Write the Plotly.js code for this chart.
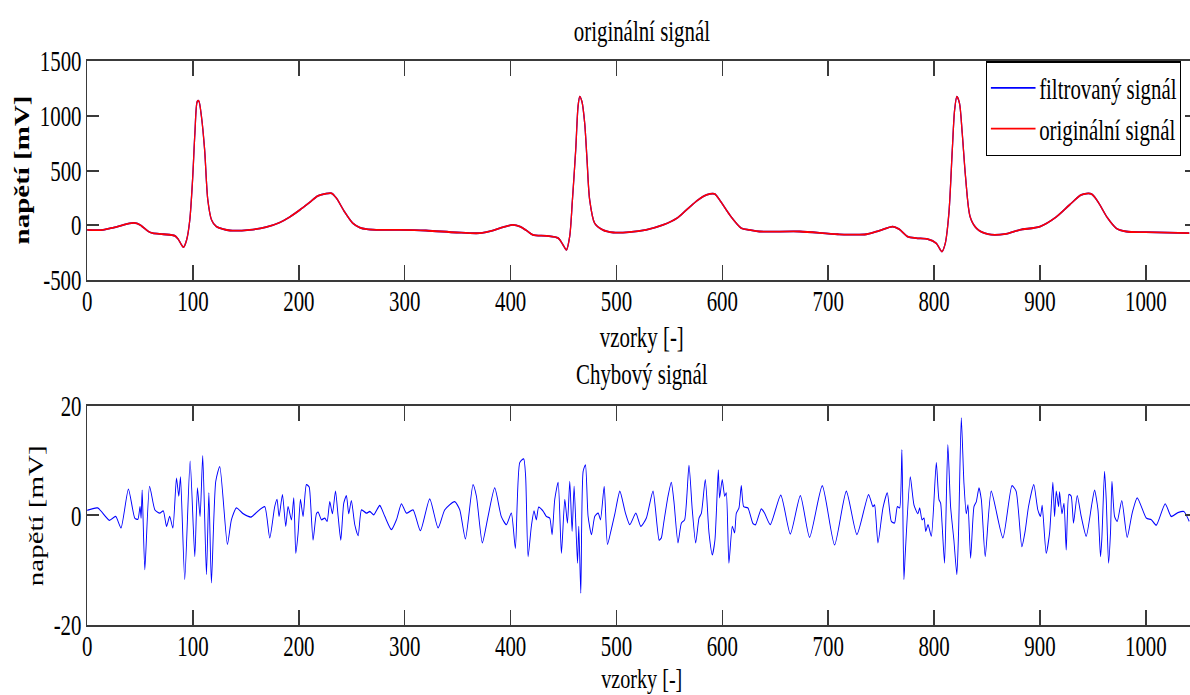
<!DOCTYPE html>
<html>
<head>
<meta charset="utf-8">
<script src="https://cdn.plot.ly/plotly-3.0.1.min.js"></script>
<style>
  html, body { margin: 0; padding: 0; background: #fff; overflow: hidden; width: 1190px; height: 695px; }
  #wrap { transform: scaleX(0.72); transform-origin: 0 0; width: 1680px; height: 695px; }
  #chart { width: 1680px; height: 695px; }
</style>
</head>
<body>
<div id="wrap"><div id="chart"></div></div>
<script>
// ---- data ----
const ecgX = [0,15,25,32,40,47,51,58,62,72,83,86,91,94,97,99.6,101.8,104,105.5,108,111,114,117.5,122,128.5,135,153.6,169,182,191,201,210,218,224.5,231,235.5,243,251,257.6,264,273,295,320,349,371,383,393,402,409,415,421,434,445,449.5,452.7,455.8,458.4,461.5,463.7,465.3,467.4,470,472.2,474.7,479.4,487,497,512,528,544,557,566,577,585,592.7,597.4,607,618,626,635,673,709,736,748.5,761,767,775,783,794,802,807.4,810.6,814,817.2,819.4,821.5,824,826.6,829.7,834,840,851,868,881,900,915,928,939,948.5,954.7,964,972,981.5,1000,1041];
const originalSignal = [-42,-42,-21,-3,18,18,-3,-57,-72,-82,-97,-127,-200,-133,50,414,840,1129,1135,992,688,231,49,-12,-36,-48,-42,-18,25,73,140,207,268,286,292,247,125,18,-21,-36,-42,-42,-48,-66,-72,-48,-18,3,-12,-48,-88,-97,-118,-179,-225,-103,231,688,1084,1175,1129,931,597,231,18,-42,-66,-63,-42,3,64,140,231,277,286,231,94,-27,-42,-57,-57,-82,-82,-48,-12,-36,-103,-118,-127,-164,-240,-164,110,688,1053,1175,1114,840,444,79,-27,-82,-79,-42,-12,73,186,277,286,216,64,-27,-57,-63,-72];
const filteredSignal = [-42,-42,-21,-3,18,18,-3,-57,-72,-82,-97,-127,-200,-133,50,414,840,1129,1135,992,688,231,49,-12,-36,-48,-42,-18,25,73,140,207,268,286,292,247,125,18,-21,-36,-42,-42,-48,-66,-72,-48,-18,3,-12,-48,-88,-97,-118,-179,-225,-103,231,688,1084,1175,1129,931,597,231,18,-42,-66,-63,-42,3,64,140,231,277,286,231,94,-27,-42,-57,-57,-82,-82,-48,-12,-36,-103,-118,-127,-164,-240,-164,110,688,1053,1175,1114,840,444,79,-27,-82,-79,-42,-12,73,186,277,286,216,64,-27,-57,-63,-72];

const errX = [0,10,21,27,32,39,45,48,50,51,52,54.5,59,64,68.6,72,75,78,81,84.4,86.6,88.2,92.2,97.3,101.7,104.2,106.7,109.2,112.7,115,117.4,121.5,125.3,132.5,136.3,141,147.3,155,161.5,167.8,172.5,177.2,179.4,181.3,184.5,187.6,189.8,193,195.2,197.1,199.3,201.5,204,207.1,209.7,210.9,213.4,216.6,218.2,221.3,224.5,226.7,229.2,231.7,234.6,237.1,239.6,242.4,244.9,247.1,249.6,252.8,256,259.1,263.8,267,270.8,276.4,281.2,287.4,292.2,296.9,301.6,307.9,314.8,323.6,331.5,337.8,347.2,352,357.3,364.5,367.7,373.3,378.7,385,391.2,396,400.7,404.5,408.6,412.4,414.2,416.5,419.6,422.1,424.3,426.5,430.6,433.8,437,439.2,441.7,444.9,448,451.2,453.7,455.9,458.1,460,463.2,464.4,466.3,468.5,470.7,473.2,476.4,479.5,482.7,484.9,488.4,491.5,494.7,498.5,503.2,508.5,512.6,518.3,523,528.2,534.5,540.3,542.4,544.6,548.7,551.8,554.3,558.1,561.3,564.4,568.5,571.6,574.8,578,580.2,583.9,587.4,590.5,593,596.2,597.4,599.9,602.2,603.7,606.2,609.4,611.6,613.2,615.7,617.9,620.1,624.2,628.9,631.4,636.8,639.9,645.3,655.2,664.2,673.7,682.4,694.4,706,717.1,727.1,738.1,742.2,743.8,747,751.7,755.8,759.6,762.7,765.3,767.5,769.6,771.5,772.8,777.5,781,784.7,786.4,788.6,790.5,792.1,794.3,797.4,802.1,804.6,806.2,807.5,809.9,813,815.6,818.7,821.5,823.1,825.7,828.2,830.4,832,834.5,837.7,839.9,842.4,844.6,848.3,854,865,873.5,877.5,882.9,886,889.2,894.2,898,900.5,902.1,905.9,909.1,912.2,913.8,915.4,917.6,918.5,920.8,922.7,924.8,927.3,929.5,931.7,935.2,939,943.7,949.1,951.6,954.8,957.2,958.5,961,962.6,964.8,966.7,968,970.5,973,977.3,982.4,987.1,991.9,1000.4,1005.2,1009.9,1018.3,1024,1030.3,1036,1041];
const errorSignal = [0.9,1.35,-0.9,-0.2,-2.3,4.8,-0.5,-0.7,1.6,-0.5,4.6,-9.9,5.3,1.0,0.4,0.8,-2.0,-0.2,-2.3,6.8,3.5,7.0,-11.7,9.9,-7.5,5.0,-0.2,10.9,-10.8,4.1,-12.3,6.2,8.9,-5.3,-0.8,1.35,0.3,-0.3,0.8,1.6,-4.1,1.6,2.9,-0.2,3.8,-2.0,1.6,-0.8,3.2,-6.9,-3.2,2.9,-0.2,5.6,5.2,2.9,-4.5,0.3,0.6,-0.8,-0.5,-1.1,2.5,0.3,4.4,-0.2,-4.5,2.2,3.6,0.3,2.7,-1.7,-3.7,1.0,0.4,0.7,0.1,1.8,-0.2,-2.6,-0.8,2.1,0.4,1.0,-2.8,3.0,-2.3,1.0,2.5,1.0,-4.3,5.6,3.5,-5.0,-0.2,5.0,-0.2,-1.7,0.4,-6.0,9.6,10.3,7.1,-7.5,-2.0,0.8,-0.8,1.5,0.8,-0.2,-0.5,-3.5,2.9,6.0,-6.9,2.9,-1.4,6.2,-2.9,5.3,-8.7,-2.0,-14.2,8.0,9.2,-0.2,-3.5,-0.2,0.4,-0.8,5.3,-5.3,-2.9,0.3,4.4,0.4,-1.7,0.4,-2.0,-0.5,4.4,-4.5,-4.1,-1.4,3.5,6.0,2.5,-5.0,-1.4,-0.8,9.1,1.0,-5.0,-0.5,0.4,6.5,-3.2,-7.2,-4.5,8.3,3.2,6.5,3.5,4.1,-8.7,-2.0,-3.2,0.4,1.35,5.4,1.6,1.35,-1.5,-1.7,1.2,0.4,-1.7,3.7,-3.4,3.6,-4.0,5.4,-5.4,4.4,-3.5,3.8,1.6,1.9,-5.0,1.35,4.1,-1.1,-1.4,1.6,1.35,12.0,-11.7,-6.9,7.0,1.9,0.3,1.35,-0.8,-0.5,-2.9,-1.7,-3.8,9.6,2.9,2.2,-1.4,-8.7,12.9,1.6,-4.5,-10.8,-3.2,17.8,5.9,0.3,1.9,-7.8,1.6,2.5,5.0,2.9,-7.5,4.4,-4.1,5.4,4.4,-5.7,-2.9,1.6,5.6,1.0,-0.2,1.8,-6.9,-3.2,6.0,-0.2,4.4,1.6,4.3,0.3,2.2,-6.3,3.8,3.5,-1.4,3.6,-0.2,-3.8,2.2,4.6,1.0,-7.5,-4.1,8.0,2.9,-8.7,-2.9,6.2,-0.2,-1.1,2.7,-4.0,0.4,3.2,-0.5,-0.8,-1.8,2.1,-0.2,0.5,0.7,-1.1];

const xTickVals = [0,100,200,300,400,500,600,700,800,900,1000];
const xTickText = ['0','100','200','300','400','500','600','700','800','900','1000'];
const yTopTickVals = [-500,0,500,1000,1500];
const yTopTickText = ['-500','0','500','1000','1500'];
const yBotTickVals = [-20,0,20];
const yBotTickText = ['-20','0','20'];

// ---- styling ----
const FONT = 'Liberation Serif, Times New Roman, serif';
const FS = 29;
const AXC = '#3a3a3a';
const TXT = {family: FONT, size: FS, color: '#000'};

function xAxis(anchor) {
  return {
    anchor: anchor, range: [0, 1048], tickmode: 'array', tickvals: xTickVals, ticktext: xTickText,
    ticks: 'inside', ticklen: 15, tickwidth: 2, tickcolor: AXC, ticklabelstandoff: -6,
    showline: true, linecolor: AXC, linewidth: 2, mirror: 'ticks',
    showgrid: false, zeroline: false, tickfont: TXT
  };
}
function yAxis(anchor, dom, rng, tv, tt) {
  return {
    anchor: anchor, domain: dom, range: rng, tickmode: 'array', tickvals: tv, ticktext: tt,
    ticks: 'inside', ticklen: 16, tickwidth: 2, tickcolor: AXC,
    showline: true, linecolor: AXC, linewidth: 2, mirror: 'ticks',
    showgrid: false, zeroline: false, tickfont: TXT
  };
}
function note(text, x, y, angle, yanchor, size) {
  return {text: text, xref: 'paper', yref: 'paper', x: x, y: y, xanchor: 'center', yanchor: yanchor || 'middle',
          textangle: angle || 0, showarrow: false, borderpad: 0,
          font: {family: FONT, size: size || FS, color: '#000'}};
}

const traces = [
  {x: ecgX, y: filteredSignal, xaxis: 'x', yaxis: 'y', type: 'scatter', mode: 'lines',
   name: 'filtrovaný signál', line: {color: '#0000ff', width: 1.8, shape: 'spline', smoothing: 0.8}},
  {x: ecgX, y: originalSignal, xaxis: 'x', yaxis: 'y', type: 'scatter', mode: 'lines',
   name: 'originální signál', line: {color: '#ff0000', width: 1.8, shape: 'spline', smoothing: 0.8}},
  {x: errX, y: errorSignal, xaxis: 'x2', yaxis: 'y2', type: 'scatter', mode: 'lines',
   name: 'Chybový signál', showlegend: false, line: {color: '#0000ff', width: 1.3, shape: 'spline', smoothing: 0.6}}
];

const layout = {
  width: 1680, height: 695,
  margin: {l: 121.25, r: 17.5, t: 61.3, b: 69.7, autoexpand: false},
  paper_bgcolor: '#fff', plot_bgcolor: '#fff',
  font: TXT,
  title: {text: 'originální signál', font: TXT,
          x: 0.5, xref: 'paper', xanchor: 'center', y: 1 - 31/695, yref: 'container', yanchor: 'middle'},
  xaxis: xAxis('y'),
  yaxis: yAxis('x', [0.6117, 1], [-500, 1500], yTopTickVals, yTopTickText),
  xaxis2: xAxis('y2'),
  yaxis2: yAxis('x2', [0, 0.3888], [-20, 20], yBotTickVals, yBotTickText),
  showlegend: true,
  legend: {x: 0.9862, xanchor: 'right', y: 1, yanchor: 'top', bgcolor: '#fff', itemwidth: 62,
           bordercolor: '#000', borderwidth: 1.5, font: TXT},
  annotations: [
    note('Chybový signál', 0.5, 0.4456),
    note('vzorky [-]', 0.5, 0.5112),
    note('vzorky [-]', 0.5, -0.1233, 0, 'bottom', 28),
    note('<b>napětí [mV]</b>', -0.0584, 0.8059, -90),
    note('napětí [mV]', -0.0462, 0.1943, -90)
  ]
};

Plotly.newPlot('chart', traces, layout, {staticPlot: true, displayModeBar: false});
</script>
</body>
</html>
